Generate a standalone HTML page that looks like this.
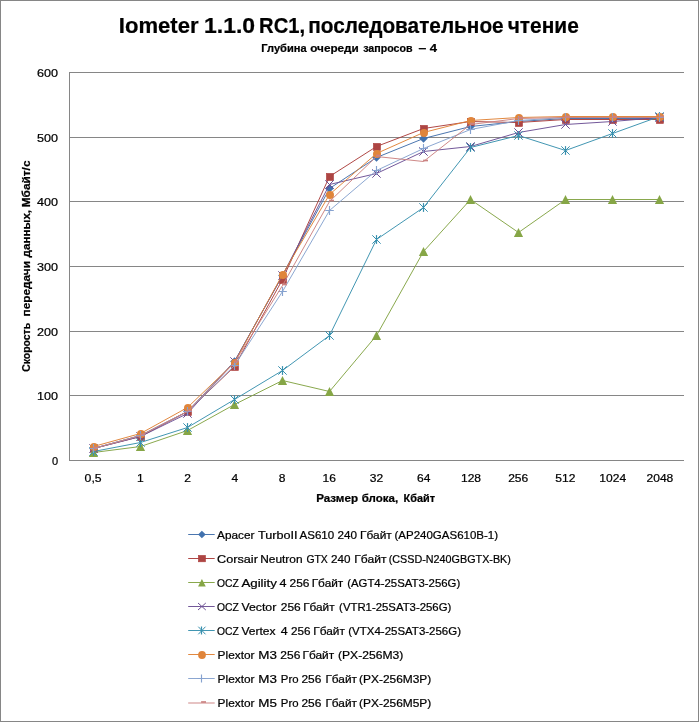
<!DOCTYPE html>
<html lang="ru"><head><meta charset="utf-8"><title>Iometer 1.1.0 RC1, последовательное чтение</title>
<style>html,body{margin:0;padding:0;background:#fff}body{width:699px;height:722px;overflow:hidden}svg{display:block}text{font-family:"Liberation Sans", sans-serif;fill:#000;white-space:pre;stroke:#000;stroke-width:0.22px;paint-order:stroke fill}</style></head><body>
<svg width="699" height="722" viewBox="0 0 699 722">
<rect x="0" y="0" width="699" height="722" fill="#fff"/>
<rect x="0.5" y="0.5" width="698" height="721" fill="none" stroke="#868686" stroke-width="1"/>
<text y="33.4" font-size="21.6" font-weight="bold" stroke-width="0"><tspan x="118.8" textLength="79.8" lengthAdjust="spacingAndGlyphs">Iometer</tspan> <tspan x="204.0" textLength="51.1" lengthAdjust="spacingAndGlyphs">1.1.0</tspan> <tspan x="259.1" textLength="46.0" lengthAdjust="spacingAndGlyphs">RC1,</tspan> <tspan x="308.2" textLength="195.5" lengthAdjust="spacingAndGlyphs">последовательное</tspan> <tspan x="507.7" textLength="71.1" lengthAdjust="spacingAndGlyphs">чтение</tspan></text>
<text y="51.8" font-size="10.5" font-weight="bold" stroke-width="0"><tspan x="261.3" textLength="45.3" lengthAdjust="spacingAndGlyphs">Глубина</tspan> <tspan x="310.2" textLength="48.6" lengthAdjust="spacingAndGlyphs">очереди</tspan> <tspan x="363.2" textLength="49.4" lengthAdjust="spacingAndGlyphs">запросов</tspan> <tspan x="418.4" textLength="7.8" lengthAdjust="spacingAndGlyphs">–</tspan> <tspan x="429.8" textLength="7.3" lengthAdjust="spacingAndGlyphs">4</tspan></text>
<g stroke="#868686" stroke-width="1" fill="none" shape-rendering="crispEdges">
<path d="M69 460.5H684"/>
<path d="M69 395.5H684"/>
<path d="M69 331.5H684"/>
<path d="M69 266.5H684"/>
<path d="M69 201.5H684"/>
<path d="M69 137.5H684"/>
<path d="M69 72.5H684"/>
<path d="M69.5 72V461"/>
</g>
<g font-size="11" text-anchor="end">
<text x="58.1" y="465.1">0</text>
<text x="58.1" y="400.4" textLength="21.0" lengthAdjust="spacingAndGlyphs">100</text>
<text x="58.1" y="335.8" textLength="21.0" lengthAdjust="spacingAndGlyphs">200</text>
<text x="58.1" y="271.1" textLength="21.0" lengthAdjust="spacingAndGlyphs">300</text>
<text x="58.1" y="206.4" textLength="21.0" lengthAdjust="spacingAndGlyphs">400</text>
<text x="58.1" y="141.8" textLength="21.0" lengthAdjust="spacingAndGlyphs">500</text>
<text x="58.1" y="77.1" textLength="21.0" lengthAdjust="spacingAndGlyphs">600</text>
</g>
<g font-size="11" text-anchor="middle">
<text x="93.1" y="482.3" textLength="17.0" lengthAdjust="spacingAndGlyphs">0,5</text>
<text x="140.3" y="482.3" textLength="6.7" lengthAdjust="spacingAndGlyphs">1</text>
<text x="187.6" y="482.3" textLength="6.7" lengthAdjust="spacingAndGlyphs">2</text>
<text x="234.8" y="482.3" textLength="6.7" lengthAdjust="spacingAndGlyphs">4</text>
<text x="282.0" y="482.3" textLength="6.7" lengthAdjust="spacingAndGlyphs">8</text>
<text x="329.3" y="482.3" textLength="13.4" lengthAdjust="spacingAndGlyphs">16</text>
<text x="376.5" y="482.3" textLength="13.4" lengthAdjust="spacingAndGlyphs">32</text>
<text x="423.7" y="482.3" textLength="13.4" lengthAdjust="spacingAndGlyphs">64</text>
<text x="471.0" y="482.3" textLength="20.1" lengthAdjust="spacingAndGlyphs">128</text>
<text x="518.2" y="482.3" textLength="20.1" lengthAdjust="spacingAndGlyphs">256</text>
<text x="565.4" y="482.3" textLength="20.1" lengthAdjust="spacingAndGlyphs">512</text>
<text x="612.7" y="482.3" textLength="26.8" lengthAdjust="spacingAndGlyphs">1024</text>
<text x="659.9" y="482.3" textLength="26.8" lengthAdjust="spacingAndGlyphs">2048</text>
</g>
<text y="501.9" font-size="10.5" font-weight="bold" stroke-width="0"><tspan x="316.2" textLength="41.8" lengthAdjust="spacingAndGlyphs">Размер</tspan> <tspan x="361.7" textLength="36.4" lengthAdjust="spacingAndGlyphs">блока,</tspan> <tspan x="403.6" textLength="31.4" lengthAdjust="spacingAndGlyphs">Кбайт</tspan></text>
<text transform="rotate(-90)" y="29.9" font-size="10.5" font-weight="bold" stroke-width="0"><tspan x="-371.8" textLength="48.9" lengthAdjust="spacingAndGlyphs">Скорость</tspan> <tspan x="-316.4" textLength="55.3" lengthAdjust="spacingAndGlyphs">передачи</tspan> <tspan x="-257.4" textLength="47.5" lengthAdjust="spacingAndGlyphs">данных,</tspan> <tspan x="-207.3" textLength="46.8" lengthAdjust="spacingAndGlyphs">Мбайт/с</tspan></text>
<g><polyline points="93.5,448.5 140.5,435.5 187.5,411.5 234.5,361.5 282.5,275.5 329.5,188.5 376.5,157.5 423.5,138.5 470.5,126.5 518.5,121.5 565.5,118.5 612.5,118.5 659.5,118.5" fill="none" stroke="#416FAB" stroke-width="0.95" stroke-linejoin="round"/>
<path d="M89.20 448.5L93.5 444.20L97.80 448.5L93.5 452.80Z" fill="#4272AE"/>
<path d="M136.20 435.5L140.5 431.20L144.80 435.5L140.5 439.80Z" fill="#4272AE"/>
<path d="M183.20 411.5L187.5 407.20L191.80 411.5L187.5 415.80Z" fill="#4272AE"/>
<path d="M230.20 361.5L234.5 357.20L238.80 361.5L234.5 365.80Z" fill="#4272AE"/>
<path d="M278.20 275.5L282.5 271.20L286.80 275.5L282.5 279.80Z" fill="#4272AE"/>
<path d="M325.20 188.5L329.5 184.20L333.80 188.5L329.5 192.80Z" fill="#4272AE"/>
<path d="M372.20 157.5L376.5 153.20L380.80 157.5L376.5 161.80Z" fill="#4272AE"/>
<path d="M419.20 138.5L423.5 134.20L427.80 138.5L423.5 142.80Z" fill="#4272AE"/>
<path d="M466.20 126.5L470.5 122.20L474.80 126.5L470.5 130.80Z" fill="#4272AE"/>
<path d="M514.20 121.5L518.5 117.20L522.80 121.5L518.5 125.80Z" fill="#4272AE"/>
<path d="M561.20 118.5L565.5 114.20L569.80 118.5L565.5 122.80Z" fill="#4272AE"/>
<path d="M608.20 118.5L612.5 114.20L616.80 118.5L612.5 122.80Z" fill="#4272AE"/>
<path d="M655.20 118.5L659.5 114.20L663.80 118.5L659.5 122.80Z" fill="#4272AE"/>
</g>
<g><polyline points="93.5,448.5 140.5,436.5 187.5,411.5 234.5,366.5 282.5,279.5 329.5,176.5 376.5,146.5 423.5,128.5 470.5,121.5 518.5,122.5 565.5,119.5 612.5,119.5 659.5,119.5" fill="none" stroke="#AC3E3C" stroke-width="0.95" stroke-linejoin="round"/>
<rect x="90.40" y="445.40" width="7.10" height="7.10" fill="#AD4543" stroke="#AC3E3C" stroke-width="0.6"/>
<rect x="137.40" y="433.40" width="7.10" height="7.10" fill="#AD4543" stroke="#AC3E3C" stroke-width="0.6"/>
<rect x="184.40" y="408.40" width="7.10" height="7.10" fill="#AD4543" stroke="#AC3E3C" stroke-width="0.6"/>
<rect x="231.40" y="363.40" width="7.10" height="7.10" fill="#AD4543" stroke="#AC3E3C" stroke-width="0.6"/>
<rect x="279.40" y="276.40" width="7.10" height="7.10" fill="#AD4543" stroke="#AC3E3C" stroke-width="0.6"/>
<rect x="326.40" y="173.40" width="7.10" height="7.10" fill="#AD4543" stroke="#AC3E3C" stroke-width="0.6"/>
<rect x="373.40" y="143.40" width="7.10" height="7.10" fill="#AD4543" stroke="#AC3E3C" stroke-width="0.6"/>
<rect x="420.40" y="125.40" width="7.10" height="7.10" fill="#AD4543" stroke="#AC3E3C" stroke-width="0.6"/>
<rect x="467.40" y="118.40" width="7.10" height="7.10" fill="#AD4543" stroke="#AC3E3C" stroke-width="0.6"/>
<rect x="515.40" y="119.40" width="7.10" height="7.10" fill="#AD4543" stroke="#AC3E3C" stroke-width="0.6"/>
<rect x="562.40" y="116.40" width="7.10" height="7.10" fill="#AD4543" stroke="#AC3E3C" stroke-width="0.6"/>
<rect x="609.40" y="116.40" width="7.10" height="7.10" fill="#AD4543" stroke="#AC3E3C" stroke-width="0.6"/>
<rect x="656.40" y="116.40" width="7.10" height="7.10" fill="#AD4543" stroke="#AC3E3C" stroke-width="0.6"/>
</g>
<g><polyline points="93.5,452.5 140.5,446.5 187.5,430.5 234.5,404.5 282.5,380.5 329.5,391.5 376.5,335.5 423.5,251.5 470.5,199.5 518.5,232.5 565.5,199.5 612.5,199.5 659.5,199.5" fill="none" stroke="#83A343" stroke-width="0.95" stroke-linejoin="round"/>
<path d="M93.5 448.00L98.10 456.90L88.90 456.90Z" fill="#86A646"/>
<path d="M140.5 442.00L145.10 450.90L135.90 450.90Z" fill="#86A646"/>
<path d="M187.5 426.00L192.10 434.90L182.90 434.90Z" fill="#86A646"/>
<path d="M234.5 400.00L239.10 408.90L229.90 408.90Z" fill="#86A646"/>
<path d="M282.5 376.00L287.10 384.90L277.90 384.90Z" fill="#86A646"/>
<path d="M329.5 387.00L334.10 395.90L324.90 395.90Z" fill="#86A646"/>
<path d="M376.5 331.00L381.10 339.90L371.90 339.90Z" fill="#86A646"/>
<path d="M423.5 247.00L428.10 255.90L418.90 255.90Z" fill="#86A646"/>
<path d="M470.5 195.00L475.10 203.90L465.90 203.90Z" fill="#86A646"/>
<path d="M518.5 228.00L523.10 236.90L513.90 236.90Z" fill="#86A646"/>
<path d="M565.5 195.00L570.10 203.90L560.90 203.90Z" fill="#86A646"/>
<path d="M612.5 195.00L617.10 203.90L607.90 203.90Z" fill="#86A646"/>
<path d="M659.5 195.00L664.10 203.90L654.90 203.90Z" fill="#86A646"/>
</g>
<g><polyline points="93.5,448.5 140.5,436.5 187.5,413.5 234.5,361.5 282.5,275.5 329.5,184.5 376.5,173.5 423.5,151.5 470.5,146.5 518.5,132.5 565.5,124.5 612.5,121.5 659.5,117.5" fill="none" stroke="#6C4F93" stroke-width="0.95" stroke-linejoin="round"/>
<path d="M89.30 444.30L97.70 452.70M89.30 452.70L97.70 444.30" stroke="#6C4F93" stroke-width="1" fill="none"/>
<path d="M136.30 432.30L144.70 440.70M136.30 440.70L144.70 432.30" stroke="#6C4F93" stroke-width="1" fill="none"/>
<path d="M183.30 409.30L191.70 417.70M183.30 417.70L191.70 409.30" stroke="#6C4F93" stroke-width="1" fill="none"/>
<path d="M230.30 357.30L238.70 365.70M230.30 365.70L238.70 357.30" stroke="#6C4F93" stroke-width="1" fill="none"/>
<path d="M278.30 271.30L286.70 279.70M278.30 279.70L286.70 271.30" stroke="#6C4F93" stroke-width="1" fill="none"/>
<path d="M325.30 180.30L333.70 188.70M325.30 188.70L333.70 180.30" stroke="#6C4F93" stroke-width="1" fill="none"/>
<path d="M372.30 169.30L380.70 177.70M372.30 177.70L380.70 169.30" stroke="#6C4F93" stroke-width="1" fill="none"/>
<path d="M419.30 147.30L427.70 155.70M419.30 155.70L427.70 147.30" stroke="#6C4F93" stroke-width="1" fill="none"/>
<path d="M466.30 142.30L474.70 150.70M466.30 150.70L474.70 142.30" stroke="#6C4F93" stroke-width="1" fill="none"/>
<path d="M514.30 128.30L522.70 136.70M514.30 136.70L522.70 128.30" stroke="#6C4F93" stroke-width="1" fill="none"/>
<path d="M561.30 120.30L569.70 128.70M561.30 128.70L569.70 120.30" stroke="#6C4F93" stroke-width="1" fill="none"/>
<path d="M608.30 117.30L616.70 125.70M608.30 125.70L616.70 117.30" stroke="#6C4F93" stroke-width="1" fill="none"/>
<path d="M655.30 113.30L663.70 121.70M655.30 121.70L663.70 113.30" stroke="#6C4F93" stroke-width="1" fill="none"/>
</g>
<g><polyline points="93.5,451.5 140.5,442.5 187.5,427.5 234.5,399.5 282.5,370.5 329.5,335.5 376.5,239.5 423.5,207.5 470.5,147.5 518.5,135.5 565.5,150.5 612.5,133.5 659.5,116.5" fill="none" stroke="#3890AE" stroke-width="0.95" stroke-linejoin="round"/>
<path d="M89.30 447.30L97.70 455.70M89.30 455.70L97.70 447.30" stroke="#3890AE" stroke-width="1" fill="none"/><path d="M93.5 447.10V455.90" stroke="#3890AE" stroke-width="1.2" fill="none"/>
<path d="M136.30 438.30L144.70 446.70M136.30 446.70L144.70 438.30" stroke="#3890AE" stroke-width="1" fill="none"/><path d="M140.5 438.10V446.90" stroke="#3890AE" stroke-width="1.2" fill="none"/>
<path d="M183.30 423.30L191.70 431.70M183.30 431.70L191.70 423.30" stroke="#3890AE" stroke-width="1" fill="none"/><path d="M187.5 423.10V431.90" stroke="#3890AE" stroke-width="1.2" fill="none"/>
<path d="M230.30 395.30L238.70 403.70M230.30 403.70L238.70 395.30" stroke="#3890AE" stroke-width="1" fill="none"/><path d="M234.5 395.10V403.90" stroke="#3890AE" stroke-width="1.2" fill="none"/>
<path d="M278.30 366.30L286.70 374.70M278.30 374.70L286.70 366.30" stroke="#3890AE" stroke-width="1" fill="none"/><path d="M282.5 366.10V374.90" stroke="#3890AE" stroke-width="1.2" fill="none"/>
<path d="M325.30 331.30L333.70 339.70M325.30 339.70L333.70 331.30" stroke="#3890AE" stroke-width="1" fill="none"/><path d="M329.5 331.10V339.90" stroke="#3890AE" stroke-width="1.2" fill="none"/>
<path d="M372.30 235.30L380.70 243.70M372.30 243.70L380.70 235.30" stroke="#3890AE" stroke-width="1" fill="none"/><path d="M376.5 235.10V243.90" stroke="#3890AE" stroke-width="1.2" fill="none"/>
<path d="M419.30 203.30L427.70 211.70M419.30 211.70L427.70 203.30" stroke="#3890AE" stroke-width="1" fill="none"/><path d="M423.5 203.10V211.90" stroke="#3890AE" stroke-width="1.2" fill="none"/>
<path d="M466.30 143.30L474.70 151.70M466.30 151.70L474.70 143.30" stroke="#3890AE" stroke-width="1" fill="none"/><path d="M470.5 143.10V151.90" stroke="#3890AE" stroke-width="1.2" fill="none"/>
<path d="M514.30 131.30L522.70 139.70M514.30 139.70L522.70 131.30" stroke="#3890AE" stroke-width="1" fill="none"/><path d="M518.5 131.10V139.90" stroke="#3890AE" stroke-width="1.2" fill="none"/>
<path d="M561.30 146.30L569.70 154.70M561.30 154.70L569.70 146.30" stroke="#3890AE" stroke-width="1" fill="none"/><path d="M565.5 146.10V154.90" stroke="#3890AE" stroke-width="1.2" fill="none"/>
<path d="M608.30 129.30L616.70 137.70M608.30 137.70L616.70 129.30" stroke="#3890AE" stroke-width="1" fill="none"/><path d="M612.5 129.10V137.90" stroke="#3890AE" stroke-width="1.2" fill="none"/>
<path d="M655.30 112.30L663.70 120.70M655.30 120.70L663.70 112.30" stroke="#3890AE" stroke-width="1" fill="none"/><path d="M659.5 112.10V120.90" stroke="#3890AE" stroke-width="1.2" fill="none"/>
</g>
<g><polyline points="93.5,446.5 140.5,433.5 187.5,407.5 234.5,362.5 282.5,274.5 329.5,194.5 376.5,153.5 423.5,132.5 470.5,120.5 518.5,117.5 565.5,116.5 612.5,116.5 659.5,116.5" fill="none" stroke="#DF8236" stroke-width="0.95" stroke-linejoin="round"/>
<circle cx="94.0" cy="447.0" r="4.0" fill="#E0853B"/>
<circle cx="141.0" cy="434.0" r="4.0" fill="#E0853B"/>
<circle cx="188.0" cy="408.0" r="4.0" fill="#E0853B"/>
<circle cx="235.0" cy="363.0" r="4.0" fill="#E0853B"/>
<circle cx="283.0" cy="275.0" r="4.0" fill="#E0853B"/>
<circle cx="330.0" cy="195.0" r="4.0" fill="#E0853B"/>
<circle cx="377.0" cy="154.0" r="4.0" fill="#E0853B"/>
<circle cx="424.0" cy="133.0" r="4.0" fill="#E0853B"/>
<circle cx="471.0" cy="121.0" r="4.0" fill="#E0853B"/>
<circle cx="519.0" cy="118.0" r="4.0" fill="#E0853B"/>
<circle cx="566.0" cy="117.0" r="4.0" fill="#E0853B"/>
<circle cx="613.0" cy="117.0" r="4.0" fill="#E0853B"/>
<circle cx="660.0" cy="117.0" r="4.0" fill="#E0853B"/>
</g>
<g><polyline points="93.5,448.5 140.5,435.5 187.5,411.5 234.5,365.5 282.5,291.5 329.5,210.5 376.5,170.5 423.5,148.5 470.5,129.5 518.5,120.5 565.5,117.5 612.5,117.5 659.5,117.5" fill="none" stroke="#86A2CF" stroke-width="0.95" stroke-linejoin="round"/>
<path d="M93.5 444.10V452.90M89.20 448.5H97.80" stroke="#86A2CF" stroke-width="1.15" fill="none"/>
<path d="M140.5 431.10V439.90M136.20 435.5H144.80" stroke="#86A2CF" stroke-width="1.15" fill="none"/>
<path d="M187.5 407.10V415.90M183.20 411.5H191.80" stroke="#86A2CF" stroke-width="1.15" fill="none"/>
<path d="M234.5 361.10V369.90M230.20 365.5H238.80" stroke="#86A2CF" stroke-width="1.15" fill="none"/>
<path d="M282.5 287.10V295.90M278.20 291.5H286.80" stroke="#86A2CF" stroke-width="1.15" fill="none"/>
<path d="M329.5 206.10V214.90M325.20 210.5H333.80" stroke="#86A2CF" stroke-width="1.15" fill="none"/>
<path d="M376.5 166.10V174.90M372.20 170.5H380.80" stroke="#86A2CF" stroke-width="1.15" fill="none"/>
<path d="M423.5 144.10V152.90M419.20 148.5H427.80" stroke="#86A2CF" stroke-width="1.15" fill="none"/>
<path d="M470.5 125.10V133.90M466.20 129.5H474.80" stroke="#86A2CF" stroke-width="1.15" fill="none"/>
<path d="M518.5 116.10V124.90M514.20 120.5H522.80" stroke="#86A2CF" stroke-width="1.15" fill="none"/>
<path d="M565.5 113.10V121.90M561.20 117.5H569.80" stroke="#86A2CF" stroke-width="1.15" fill="none"/>
<path d="M612.5 113.10V121.90M608.20 117.5H616.80" stroke="#86A2CF" stroke-width="1.15" fill="none"/>
<path d="M659.5 113.10V121.90M655.20 117.5H663.80" stroke="#86A2CF" stroke-width="1.15" fill="none"/>
</g>
<g><polyline points="93.5,448.5 140.5,435.5 187.5,411.5 234.5,362.5 282.5,285.5 329.5,201.5 376.5,156.5 423.5,161.5 470.5,124.5 518.5,118.5 565.5,117.5 612.5,117.5 659.5,117.5" fill="none" stroke="#CB8281" stroke-width="0.95" stroke-linejoin="round"/>
<path d="M93.10 447.50H98.00" stroke="#CB8281" stroke-width="1.7" fill="none"/>
<path d="M140.10 434.50H145.00" stroke="#CB8281" stroke-width="1.7" fill="none"/>
<path d="M187.10 410.50H192.00" stroke="#CB8281" stroke-width="1.7" fill="none"/>
<path d="M234.10 361.50H239.00" stroke="#CB8281" stroke-width="1.7" fill="none"/>
<path d="M282.10 284.50H287.00" stroke="#CB8281" stroke-width="1.7" fill="none"/>
<path d="M329.10 200.50H334.00" stroke="#CB8281" stroke-width="1.7" fill="none"/>
<path d="M376.10 155.50H381.00" stroke="#CB8281" stroke-width="1.7" fill="none"/>
<path d="M423.10 160.50H428.00" stroke="#CB8281" stroke-width="1.7" fill="none"/>
<path d="M470.10 123.50H475.00" stroke="#CB8281" stroke-width="1.7" fill="none"/>
<path d="M518.10 117.50H523.00" stroke="#CB8281" stroke-width="1.7" fill="none"/>
<path d="M565.10 116.50H570.00" stroke="#CB8281" stroke-width="1.7" fill="none"/>
<path d="M612.10 116.50H617.00" stroke="#CB8281" stroke-width="1.7" fill="none"/>
<path d="M659.10 116.50H664.00" stroke="#CB8281" stroke-width="1.7" fill="none"/>
</g>
<path d="M188.2 534.5H214.7" stroke="#416FAB" stroke-width="0.95" fill="none"/>
<path d="M198.10 534.5L201.9 530.70L205.70 534.5L201.9 538.30Z" fill="#4272AE"/>
<text y="538.7" font-size="11"><tspan x="217.1" textLength="37.4" lengthAdjust="spacingAndGlyphs">Apacer</tspan> <tspan x="257.9" textLength="39.6" lengthAdjust="spacingAndGlyphs">TurboII</tspan> <tspan x="299.5" textLength="34.7" lengthAdjust="spacingAndGlyphs">AS610</tspan> <tspan x="337.5" textLength="19.5" lengthAdjust="spacingAndGlyphs">240</tspan> <tspan x="360.1" textLength="31.7" lengthAdjust="spacingAndGlyphs">Гбайт</tspan> <tspan x="394.5" textLength="103.6" lengthAdjust="spacingAndGlyphs">(AP240GAS610B-1)</tspan></text>
<path d="M188.2 558.5H214.7" stroke="#AC3E3C" stroke-width="0.95" fill="none"/>
<rect x="198.40" y="555.40" width="7.10" height="6.40" fill="#AD4543" stroke="#AC3E3C" stroke-width="0.6"/>
<text y="562.7" font-size="11"><tspan x="217.1" textLength="40.8" lengthAdjust="spacingAndGlyphs">Corsair</tspan> <tspan x="260.2" textLength="42.4" lengthAdjust="spacingAndGlyphs">Neutron</tspan> <tspan x="306.4" textLength="21.4" lengthAdjust="spacingAndGlyphs">GTX</tspan> <tspan x="331.1" textLength="19.5" lengthAdjust="spacingAndGlyphs">240</tspan> <tspan x="354.2" textLength="32.3" lengthAdjust="spacingAndGlyphs">Гбайт</tspan> <tspan x="388.7" textLength="122.2" lengthAdjust="spacingAndGlyphs">(CSSD-N240GBGTX-BK)</tspan></text>
<path d="M188.2 582.5H214.7" stroke="#83A343" stroke-width="0.95" fill="none"/>
<path d="M201.9 579.00L205.75 586.50L198.05 586.50Z" fill="#86A646"/>
<text y="586.7" font-size="11"><tspan x="217.1" textLength="21.8" lengthAdjust="spacingAndGlyphs">OCZ</tspan> <tspan x="241.4" textLength="35.5" lengthAdjust="spacingAndGlyphs">Agility</tspan> <tspan x="279.6" textLength="7.0" lengthAdjust="spacingAndGlyphs">4</tspan> <tspan x="289.5" textLength="19.9" lengthAdjust="spacingAndGlyphs">256</tspan> <tspan x="311.7" textLength="31.6" lengthAdjust="spacingAndGlyphs">Гбайт</tspan> <tspan x="347.2" textLength="113.0" lengthAdjust="spacingAndGlyphs">(AGT4-25SAT3-256G)</tspan></text>
<path d="M188.2 606.5H214.7" stroke="#6C4F93" stroke-width="0.95" fill="none"/>
<path d="M198.00 603.00L205.80 610.00M198.00 610.00L205.80 603.00" stroke="#6C4F93" stroke-width="1" fill="none"/>
<text y="610.7" font-size="11"><tspan x="217.1" textLength="21.8" lengthAdjust="spacingAndGlyphs">OCZ</tspan> <tspan x="241.4" textLength="34.9" lengthAdjust="spacingAndGlyphs">Vector</tspan> <tspan x="280.8" textLength="19.9" lengthAdjust="spacingAndGlyphs">256</tspan> <tspan x="303.2" textLength="31.4" lengthAdjust="spacingAndGlyphs">Гбайт</tspan> <tspan x="339.1" textLength="112.2" lengthAdjust="spacingAndGlyphs">(VTR1-25SAT3-256G)</tspan></text>
<path d="M188.2 630.5H214.7" stroke="#3890AE" stroke-width="0.95" fill="none"/>
<path d="M198.30 626.70L205.50 634.30M198.30 634.30L205.50 626.70" stroke="#3890AE" stroke-width="1" fill="none"/><path d="M201.5 626.50V634.50" stroke="#3890AE" stroke-width="1.2" fill="none"/>
<text y="634.7" font-size="11"><tspan x="217.1" textLength="21.8" lengthAdjust="spacingAndGlyphs">OCZ</tspan> <tspan x="241.4" textLength="34.2" lengthAdjust="spacingAndGlyphs">Vertex</tspan> <tspan x="280.8" textLength="6.9" lengthAdjust="spacingAndGlyphs">4</tspan> <tspan x="291.1" textLength="19.5" lengthAdjust="spacingAndGlyphs">256</tspan> <tspan x="313.3" textLength="31.6" lengthAdjust="spacingAndGlyphs">Гбайт</tspan> <tspan x="348.3" textLength="112.7" lengthAdjust="spacingAndGlyphs">(VTX4-25SAT3-256G)</tspan></text>
<path d="M188.2 654.5H214.7" stroke="#DF8236" stroke-width="0.95" fill="none"/>
<circle cx="202.0" cy="655.0" r="3.9" fill="#E0853B"/>
<text y="658.7" font-size="11"><tspan x="217.6" textLength="36.9" lengthAdjust="spacingAndGlyphs">Plextor</tspan> <tspan x="258.3" textLength="18.6" lengthAdjust="spacingAndGlyphs">M3</tspan> <tspan x="280.3" textLength="20.0" lengthAdjust="spacingAndGlyphs">256</tspan> <tspan x="302.5" textLength="31.7" lengthAdjust="spacingAndGlyphs">Гбайт</tspan> <tspan x="338.0" textLength="65.3" lengthAdjust="spacingAndGlyphs">(PX-256M3)</tspan></text>
<path d="M188.2 678.5H214.7" stroke="#86A2CF" stroke-width="0.95" fill="none"/>
<path d="M201.5 674.50V682.50M197.60 678.5H205.40" stroke="#86A2CF" stroke-width="1.15" fill="none"/>
<text y="682.7" font-size="11"><tspan x="217.6" textLength="36.9" lengthAdjust="spacingAndGlyphs">Plextor</tspan> <tspan x="258.3" textLength="18.6" lengthAdjust="spacingAndGlyphs">M3</tspan> <tspan x="280.8" textLength="17.7" lengthAdjust="spacingAndGlyphs">Pro</tspan> <tspan x="301.4" textLength="19.9" lengthAdjust="spacingAndGlyphs">256</tspan> <tspan x="325.4" textLength="31.6" lengthAdjust="spacingAndGlyphs">Гбайт</tspan> <tspan x="359.1" textLength="72.2" lengthAdjust="spacingAndGlyphs">(PX-256M3P)</tspan></text>
<path d="M188.2 703.0H214.7" stroke="#CB8281" stroke-width="0.95" fill="none"/>
<path d="M201.10 702.00H206.00" stroke="#CB8281" stroke-width="1.7" fill="none"/>
<text y="706.7" font-size="11"><tspan x="217.6" textLength="36.9" lengthAdjust="spacingAndGlyphs">Plextor</tspan> <tspan x="258.3" textLength="18.6" lengthAdjust="spacingAndGlyphs">M5</tspan> <tspan x="280.8" textLength="17.7" lengthAdjust="spacingAndGlyphs">Pro</tspan> <tspan x="301.4" textLength="19.9" lengthAdjust="spacingAndGlyphs">256</tspan> <tspan x="325.4" textLength="31.6" lengthAdjust="spacingAndGlyphs">Гбайт</tspan> <tspan x="359.1" textLength="72.2" lengthAdjust="spacingAndGlyphs">(PX-256M5P)</tspan></text>
</svg></body></html>
